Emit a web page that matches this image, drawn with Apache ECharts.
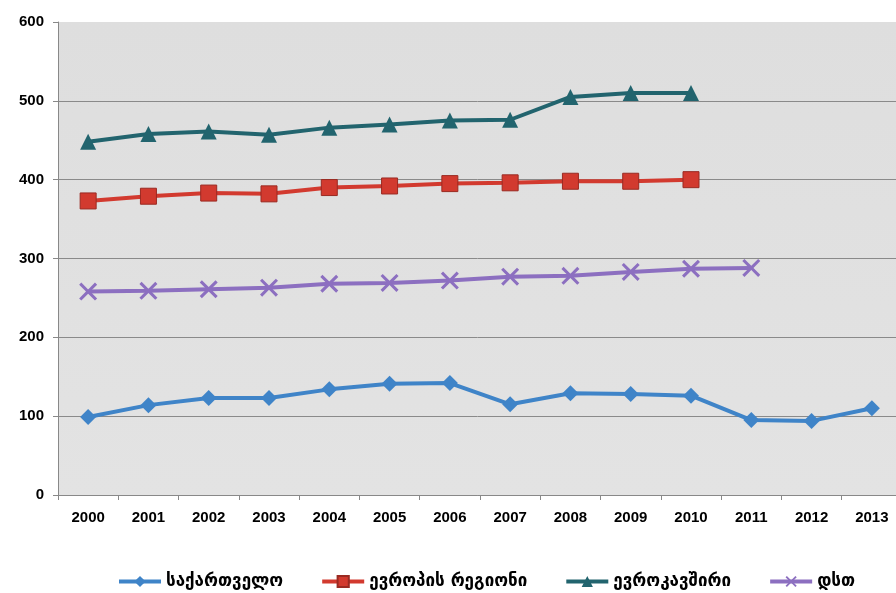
<!DOCTYPE html>
<html><head><meta charset="utf-8">
<script src="https://cdn.jsdelivr.net/npm/echarts@6/dist/echarts.min.js"></script>
<style>html,body{margin:0;padding:0;background:#fff;overflow:hidden}#c{width:896px;height:593px}</style>
</head><body><div id="c"></div>
<script>
const years = ['2000','2001','2002','2003','2004','2005','2006','2007','2008','2009','2010','2011','2012','2013'];
const names = ['საქართველო','ევროპის რეგიონი','ევროკავშირი','დსთ'];
const georgia = [99,114,123,123,134,141,142,115,129,128,126,95,94,110];
const europe = [373,379,383,382,390,392,395,396,398,398,400,null,null,null];
const eu = [448,458,461,457,466,470,475,476,505,510,510,null,null,null];
const cis = [258,259,261,263,268,269,272,277,278,283,287,288,null,null];
const yTicks = [0,100,200,300,400,500,600];

const xPath = 'path://M0,1.2 L1.2,0 L5,3.8 L8.8,0 L10,1.2 L6.2,5 L10,8.8 L8.8,10 L5,6.2 L1.2,10 L0,8.8 L3.8,5 Z';
const chart = echarts.init(document.getElementById('c'));
function ser(name, data, color, symbol, size, sym){
  return {name, type:'line', data, symbol, symbolSize:size, connectNulls:false,
    lineStyle:{color, width:4}, itemStyle:Object.assign({color}, sym||{}), z: 3};
}
chart.setOption({
  animation:false,
  grid:{left:58, top:22, width:844, height:473, show:true, outerBoundsMode:'none', containLabel:false,
    backgroundColor:new echarts.graphic.LinearGradient(0,0,0,1,[{offset:0,color:'#dedede'},{offset:1,color:'#e3e3e3'}]),
    borderWidth:0},
  legend:{top:568, left:112, itemWidth:42, itemHeight:14, itemGap:37,
    lineStyle:{width:4},
    textStyle:{fontFamily:'DejaVu Sans', fontWeight:'bold', fontSize:17, color:'#000'},
    data:names},
  xAxis:{type:'category', data:years, boundaryGap:true,
    axisLine:{lineStyle:{color:'#888', width:1}},
    axisTick:{show:true, interval:0, length:5, lineStyle:{color:'#888'}},
    axisLabel:{interval:0, margin:15, color:'#000', fontFamily:'Liberation Sans', fontWeight:'bold', fontSize:15},
    splitLine:{show:false}},
  yAxis:{type:'value', min:0, max:600, interval:100,
    axisLine:{show:true, lineStyle:{color:'#888'}},
    axisTick:{show:true, length:5, lineStyle:{color:'#888'}},
    axisLabel:{margin:14, color:'#000', fontFamily:'Liberation Sans', fontWeight:'bold', fontSize:15,
      formatter:v=>yTicks.includes(v)?String(v):''},
    splitLine:{show:true, lineStyle:{color:['#8a8a8a','#8a8a8a','#8a8a8a','#8a8a8a','#8a8a8a','#8a8a8a','rgba(0,0,0,0)'], width:1}}},
  series:[
    ser(names[0], georgia, '#3f84c8', 'diamond', 16),
    ser(names[1], europe, '#d23a2f', 'rect', 16, {borderColor:'#9a2a22', borderWidth:1}),
    ser(names[2], eu, '#22646e', 'triangle', 16),
    ser(names[3], cis, '#8c6fc0', xPath, 18)
  ]
});
</script></body></html>
